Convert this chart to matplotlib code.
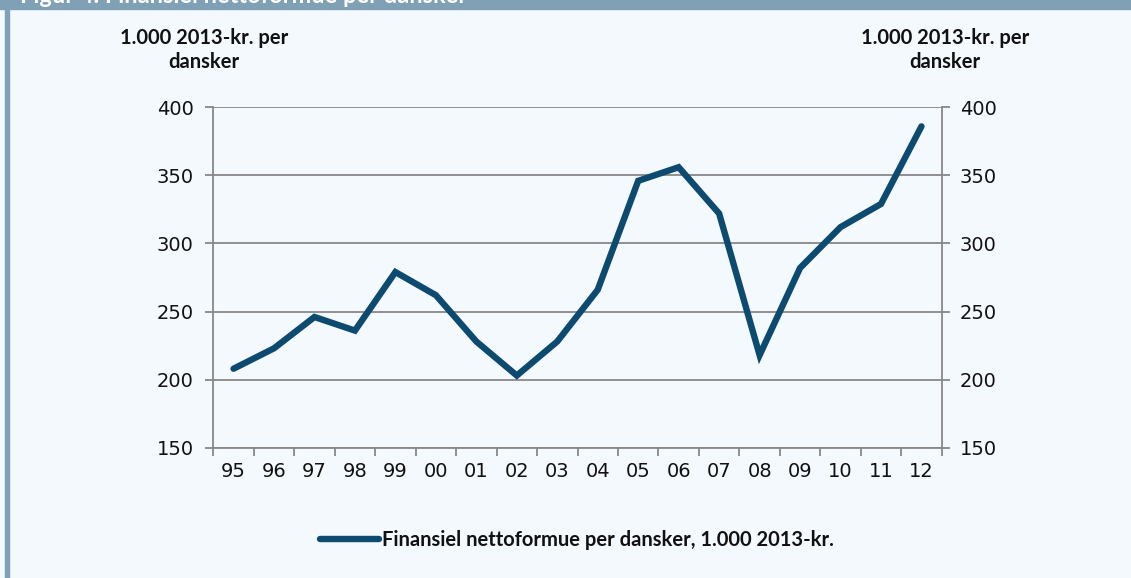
import matplotlib.pyplot as plt
import numpy as np

years = ['95', '96', '97', '98', '99', '00', '01', '02', '03',
         '04', '05', '06', '07', '08', '09', '10', '11', '12']
formue = [208, 223, 246, 236, 279, 262, 228, 203, 228,
          266, 346, 356, 322, 218, 282, 312, 329, 386]
yticks = [150, 200, 250, 300, 350, 400]

unit_label = '1.000 2013-kr. per\ndansker'
legend_label = 'Finansiel nettoformue per dansker, 1.000 2013-kr.'
title = 'Figur 4. Finansiel nettoformue per dansker'

W, H = 1131, 578
bg = '#f4f9fe'
frame = '#7fa0b5'
grey = '#888888'
navy = '#0d4a6f'

plt.rcParams['font.family'] = 'DejaVu Sans'

fig = plt.figure(figsize=(W / 100, H / 100), dpi=100, facecolor=bg)

# header strip and left border
fig.patches.append(plt.Rectangle((0, 1 - 9 / H), 1, 9 / H, transform=fig.transFigure,
                                 color=frame, zorder=0))
fig.patches.append(plt.Rectangle((5 / W, 0), 4 / W, 1, transform=fig.transFigure,
                                 color=frame, zorder=0))
# title sits mostly above the picture, as in the cropped original
fig.text(20 / W, 1 - 3 / H, title, color='white', fontsize=17, fontweight='bold',
         family='Lato', va='baseline', ha='left')

x0, x1 = 213.3, 941.7
y0, y1 = 447.7, 107.3
ax = fig.add_axes([x0 / W, 1 - y0 / H, (x1 - x0) / W, (y0 - y1) / H])
ax.set_facecolor(bg)

xpos = np.arange(len(years)) + 0.5
ax.plot(xpos, formue, color=navy, lw=4.6, solid_capstyle='round',
        solid_joinstyle='miter', zorder=3, label=legend_label)

ax.set_xlim(0, len(years))
ax.set_ylim(150, 400)
ax.set_yticks(yticks)
ax.grid(axis='y', color=grey, lw=1.3)
ax.set_axisbelow(True)

ax.set_xticks(xpos)
ax.set_xticklabels(years)
ax.set_xticks(np.arange(len(years) + 1), minor=True)
ax.tick_params(axis='x', which='major', length=0, pad=10)
ax.tick_params(axis='x', which='minor', length=6, width=1.3, color=grey, direction='out')
ax.tick_params(axis='y', length=6, width=1.3, color=grey, pad=8)
ax.tick_params(labelsize=14, labelcolor='#111111')

ax.spines['top'].set_visible(False)
for s in ['left', 'right', 'bottom']:
    ax.spines[s].set_color(grey)
    ax.spines[s].set_linewidth(1.3)

ax2 = ax.twinx()
ax2.set_ylim(150, 400)
ax2.set_yticks(yticks)
ax2.tick_params(axis='y', length=6, width=1.3, color=grey, pad=7,
                labelsize=14, labelcolor='#111111')
for s in ax2.spines.values():
    s.set_visible(False)

for cx in (204, 945):
    fig.text(cx / W, 1 - 50 / H, unit_label, ha='center', va='center', fontsize=14.5,
             fontweight='bold', family='Lato', linespacing=1.25, color='#111111')

leg = fig.legend(loc='center', bbox_to_anchor=(577 / W, 1 - 540 / H), frameon=False,
                 handlelength=2.9, handletextpad=0.15,
                 prop={'family': 'Lato', 'weight': 'bold', 'size': 14.5})
for t in leg.get_texts():
    t.set_color('#111111')

fig.savefig('out.png', dpi=100, facecolor=bg)
